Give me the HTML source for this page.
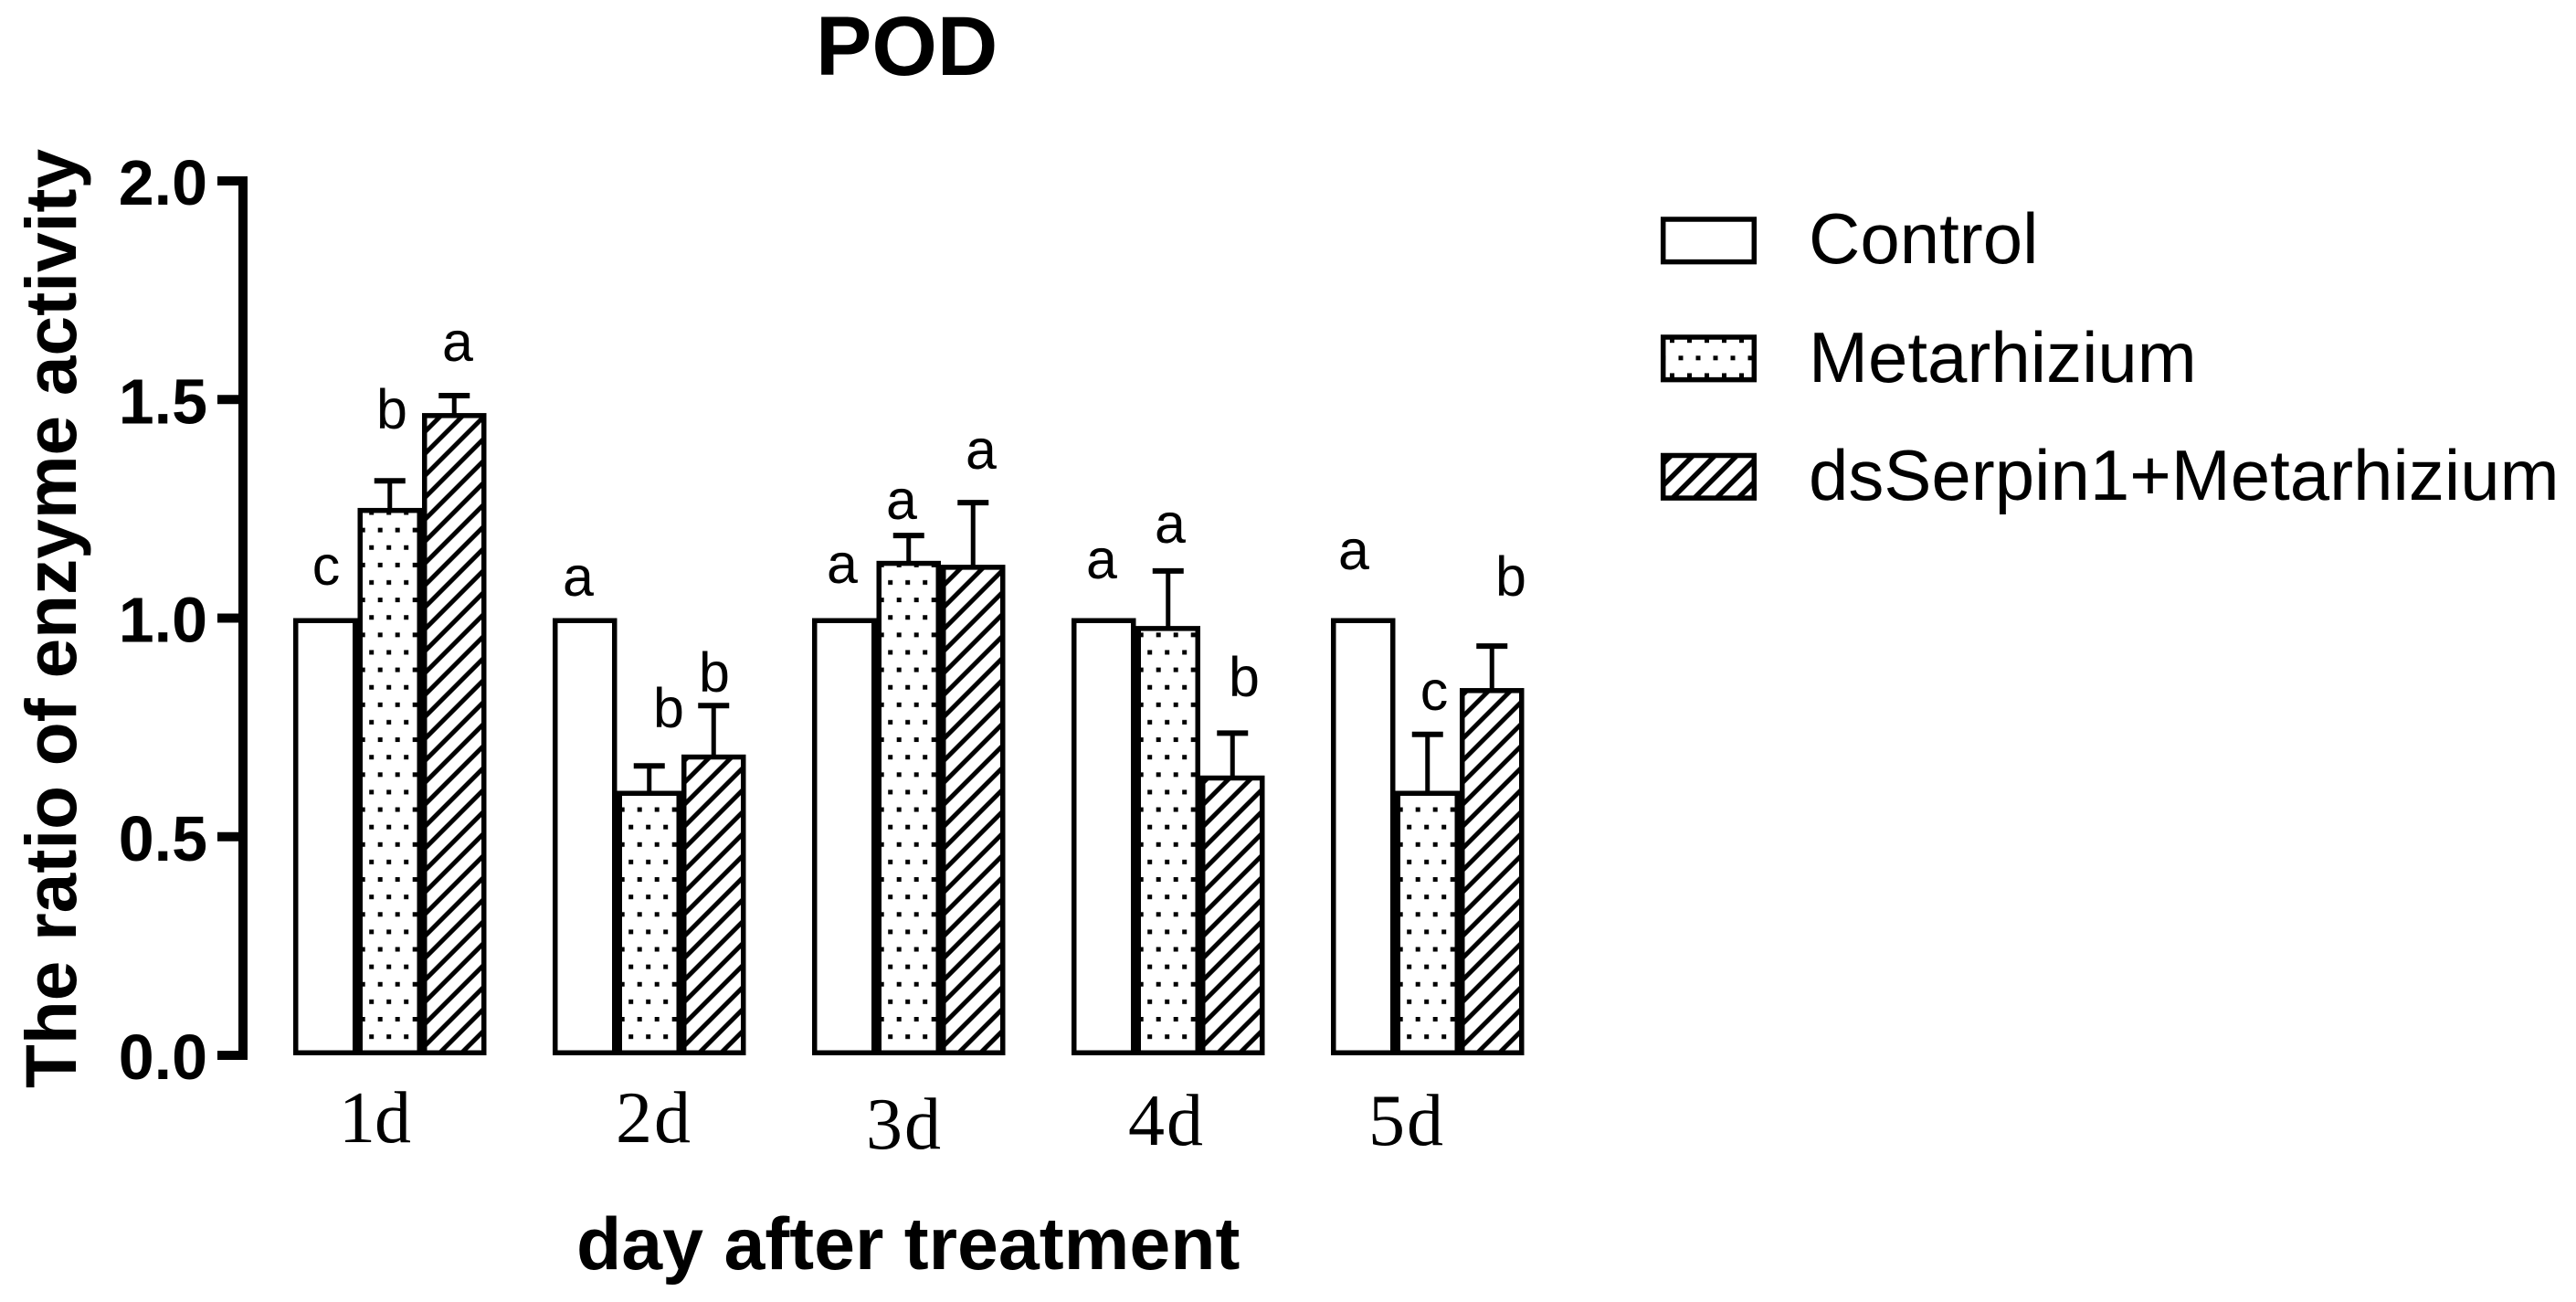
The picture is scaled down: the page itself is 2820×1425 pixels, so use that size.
<!DOCTYPE html>
<html lang="en">
<head>
<meta charset="utf-8">
<title>POD enzyme activity</title>
<style>
  html, body { margin: 0; padding: 0; background: #fff; }
  svg { display: block; }
  text { fill: #000; font-family: "Liberation Sans", Arial, sans-serif; }
  .b { font-weight: 700; }
  .serif { font-family: "Liberation Serif", "Times New Roman", serif; font-size: 80px; letter-spacing: 2px; }
  .sig { font-size: 61px; text-anchor: middle; }
  .leg { font-size: 78px; }
</style>
</head>
<body>
<svg id="chart" xmlns="http://www.w3.org/2000/svg" width="2820" height="1425" viewBox="0 0 2820 1425">
  <defs id="defs">
    <pattern id="leg-dots" patternUnits="userSpaceOnUse" x="1828" y="370.2" width="19" height="38.24">
      <rect x="0" y="0" width="5" height="5" fill="#000"/>
      <rect x="9.5" y="19.12" width="5" height="5" fill="#000"/>
    </pattern>
    <pattern id="leg-hatch" patternUnits="userSpaceOnUse" x="1822" y="530" width="24" height="24">
      <path d="M0 24L24 0M-3 3L3 -3M21 27L27 21" stroke="#000" stroke-width="5.5" fill="none"/>
    </pattern>
  </defs>

  <text class="b" x="893" y="82" font-size="92">POD</text>
  <text class="b" transform="translate(83 1191) rotate(-90)" font-size="78.4">The ratio of enzyme activity</text>
  <text class="b" x="631" y="1389" font-size="80.7">day after treatment</text>

  <g id="bars"></g>
  <g id="axis"></g>

  <g>
    <text class="serif" x="371" y="1250" style="letter-spacing:-1px">1d</text>
    <text class="serif" x="674" y="1250">2d</text>
    <text class="serif" x="948" y="1257">3d</text>
    <text class="serif" x="1235" y="1253">4d</text>
    <text class="serif" x="1498" y="1253">5d</text>
  </g>

  <g>
    <text class="sig" x="357" y="640">c</text>
    <text class="sig" x="429" y="469">b</text>
    <text class="sig" x="501" y="395">a</text>
    <text class="sig" x="633" y="652">a</text>
    <text class="sig" x="732" y="796">b</text>
    <text class="sig" x="782" y="757">b</text>
    <text class="sig" x="922" y="638">a</text>
    <text class="sig" x="987" y="568">a</text>
    <text class="sig" x="1074" y="513">a</text>
    <text class="sig" x="1206" y="633">a</text>
    <text class="sig" x="1281" y="594">a</text>
    <text class="sig" x="1362" y="762">b</text>
    <text class="sig" x="1482" y="623">a</text>
    <text class="sig" x="1570" y="777">c</text>
    <text class="sig" x="1654" y="652">b</text>
  </g>

  <g>
    <rect x="1820.7" y="240" width="99.6" height="46.6" fill="#fff" stroke="#000" stroke-width="5.5"/>
    <text class="leg" x="1980" y="288">Control</text>
    <rect x="1820.7" y="369" width="99.6" height="46.6" fill="url(#leg-dots)" stroke="#000" stroke-width="5.5"/>
    <text class="leg" x="1980" y="418">Metarhizium</text>
    <rect x="1820.7" y="498.5" width="99.6" height="46.6" fill="url(#leg-hatch)" stroke="#000" stroke-width="5.5"/>
    <text class="leg" x="1980" y="547">dsSerpin1+Metarhizium</text>
  </g>
</svg>

<script>
const categories = ["1d", "2d", "3d", "4d", "5d"];
const seriesNames = ["control", "metarhizium", "dsserpin-metarhizium"];
const controlValues = [1.0, 1.0, 1.0, 1.0, 1.0];
const metarhiziumValues = [1.252, 0.605, 1.131, 0.982, 0.605];
const dsSerpinValues = [1.469, 0.688, 1.122, 0.64, 0.84];
const metarhiziumErrorTops = [1.314, 0.662, 1.189, 1.108, 0.734];
const dsSerpinErrorTops = [1.509, 0.80, 1.264, 0.737, 0.936];
const yTickValues = [0, 0.5, 1, 1.5, 2];
const yTickLabels = ["0.0", "0.5", "1.0", "1.5", "2.0"];

const NS = "http://www.w3.org/2000/svg";
const yZero = 1155, yUnit = 478.5;
const groupStart = 321, groupStep = 284, barStep = 70.5, strokeW = 5.5;
const y = v => yZero - yUnit * v;
const barLeft = (g, s) => groupStart + groupStep * g + barStep * s;
const make = (tag, attrs, parent) => {
  const el = document.createElementNS(NS, tag);
  for (const k in attrs) el.setAttribute(k, attrs[k]);
  parent.appendChild(el);
  return el;
};

const defs = document.getElementById("defs");
const barsG = document.getElementById("bars");
const axisG = document.getElementById("axis");

function dotFill(id, L) {
  const p = make("pattern", {id, patternUnits: "userSpaceOnUse", x: L + 3.2, y: yZero - 42, width: 19, height: 38.24}, defs);
  make("rect", {x: 0, y: 0, width: 5, height: 5, fill: "#000"}, p);
  make("rect", {x: 9.5, y: 19.12, width: 5, height: 5, fill: "#000"}, p);
  return "url(#" + id + ")";
}
function hatchFill(id, L) {
  const p = make("pattern", {id, patternUnits: "userSpaceOnUse", x: L + 4.7, y: yZero - 12, width: 24, height: 24}, defs);
  make("path", {d: "M0 24L24 0M-3 3L3 -3M21 27L27 21", stroke: "#000", "stroke-width": 5, fill: "none"}, p);
  return "url(#" + id + ")";
}

const seriesValues = [controlValues, metarhiziumValues, dsSerpinValues];
const seriesErrors = [null, metarhiziumErrorTops, dsSerpinErrorTops];

categories.forEach((cat, g) => {
  seriesValues.forEach((vals, s) => {
    const L = barLeft(g, s);
    const top = y(vals[g]) + strokeW / 2;
    const bottom = yZero - strokeW / 2;
    const cx = L + barStep / 2;
    const errs = seriesErrors[s];
    if (errs) {
      const capY = y(errs[g]);
      const stem = make("line", {x1: cx, x2: cx, y1: capY, y2: top, stroke: "#000", "stroke-width": 5}, barsG);
      
      
      const cap = make("line", {x1: cx - 17, x2: cx + 17, y1: capY, y2: capY, stroke: "#000", "stroke-width": 6}, barsG);
      
      
    }
    let fill = "#fff";
    if (s === 1) fill = dotFill("dots-" + g, L);
    if (s === 2) fill = hatchFill("hatch-" + g, L);
    const bar = make("rect", {
      x: L + strokeW / 2, y: top,
      width: barStep - strokeW, height: bottom - top,
      fill, stroke: "#000", "stroke-width": strokeW
    }, barsG);
    
    
  });
});

const axisLine = make("line", {x1: 266, x2: 266, y1: y(2) - 5, y2: y(0) + 5, stroke: "#000", "stroke-width": 10}, axisG);



yTickValues.forEach((v, i) => {
  const tick = make("line", {x1: 238, x2: 266, y1: y(v), y2: y(v), stroke: "#000", "stroke-width": 10}, axisG);
  
  
  const label = make("text", {x: 227, y: y(v) + 26, "text-anchor": "end", "font-size": 70, "font-weight": 700}, axisG);
  label.textContent = yTickLabels[i];
  
  
});
</script>
</body>
</html>
